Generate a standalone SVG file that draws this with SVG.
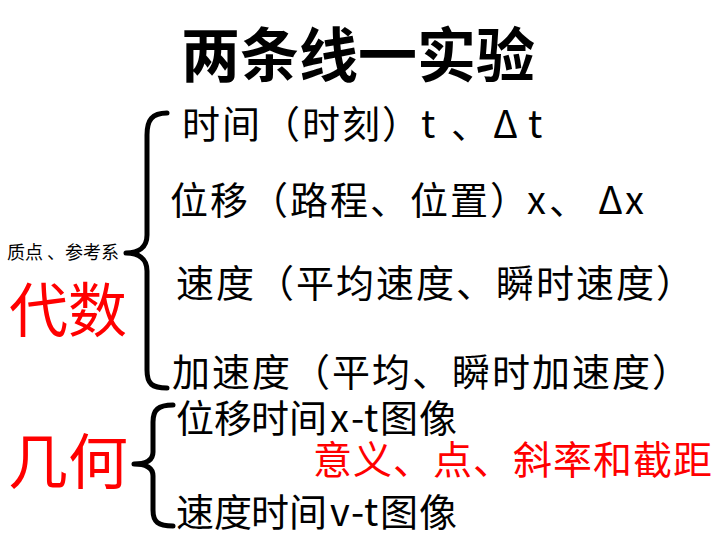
<svg xmlns="http://www.w3.org/2000/svg" width="720" height="540" viewBox="0 0 720 540">
<style>
.t{font-family:"Noto Sans CJK SC","Noto Sans",sans-serif;fill:#000}
.l{font-size:38px}
.w{letter-spacing:2px}
.r{fill:#ff0000}
.br{fill:none;stroke:#000;stroke-width:5;stroke-linecap:round;stroke-linejoin:round}
</style>
<rect width="720" height="540" fill="#fff"/>
<g id="title"><text class="t" x="358" y="77" font-size="59" font-weight="bold" text-anchor="middle">两条线一实验</text></g>
<g id="connectors">
<path class="br" d="M167,113 C152,113 147,120 147,135 L147,235 C147,248 138,253 126,253 C138,253 147,258 147,271 L147,370 C147,384 152,388 167,388"/>
<path class="br" d="M173,405 C158,405 153,410 153,422 L153,452 C153,460 146,464 134,464 C146,464 153,468 153,476 L153,510 C153,522 158,526 173,526"/>
</g>
<g id="ref"><text class="t" x="7" y="259" font-size="18">质点 、参考系</text></g>
<g id="algebra"><text class="t r" x="9" y="332" font-size="59">代数</text></g>
<g id="geometry"><text class="t r" x="8" y="484" font-size="60">几何</text></g>
<g id="time"><text class="t l w" x="182" y="138">时间（时刻）<tspan x="421">t</tspan><tspan x="451">、</tspan><tspan x="493">Δ</tspan><tspan x="528">t</tspan></text></g>
<g id="disp"><text class="t l w" x="170" y="214">位移（路程、位置）<tspan x="527">x</tspan><tspan x="549">、</tspan><tspan x="598">Δ</tspan><tspan x="625">x</tspan></text></g>
<g id="vel"><text class="t l w" x="176" y="297">速度（平均速度、瞬时速度）</text></g>
<g id="acc"><text class="t l w" x="172" y="386">加速度（平均、瞬时加速度）</text></g>
<g id="xt"><text class="t l" x="176 214 251 289 330 351 364 380 419" y="432">位移时间x-t图像</text></g>
<g id="vt"><text class="t l" x="176 214 251 289 330 351 364 380 419" y="526">速度时间v-t图像</text></g>
<g id="meaning"><text class="t r" x="313" y="474" font-size="39" letter-spacing="1">意义、点、斜率和截距</text></g>
</svg>
